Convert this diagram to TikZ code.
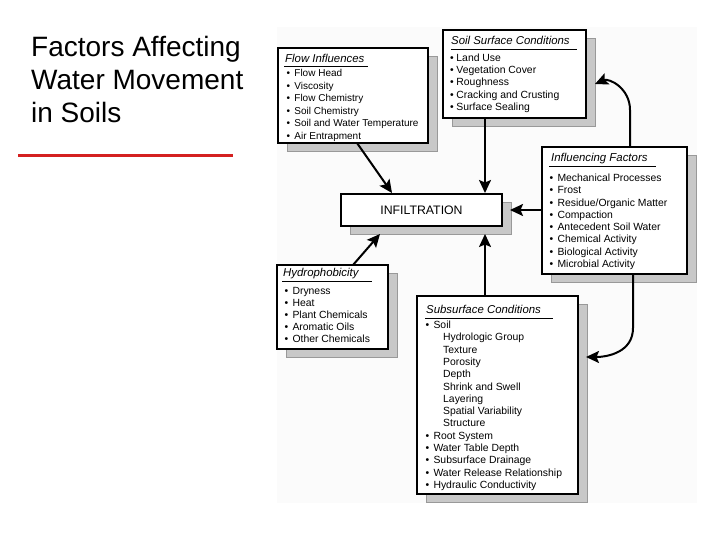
\documentclass[tikz,border=0pt]{standalone}
\usepackage{fontspec}
\setmainfont{Liberation Sans}
\usetikzlibrary{arrows.meta,calc,shadows}
\definecolor{redline}{RGB}{212,32,32}
\definecolor{shadowgray}{RGB}{200,200,200}
\definecolor{pagegray}{RGB}{251,251,251}
\newcommand\bul{\textbullet\hspace{4.2pt}}
\begin{document}
\begin{tikzpicture}[x=1pt,y=-1pt,
  panel/.style={rectangle, draw=black, line width=1.8pt, fill=white, anchor=north west,
    inner sep=0pt, outer sep=0pt,
    drop shadow={shadow xshift=9pt, shadow yshift=-8pt, fill=shadowgray, draw=black!40,
      line width=0.6pt, opacity=1}},
  ttl/.style={anchor=base west, inner sep=0pt, font=\fontsize{11.4}{13}\selectfont\itshape},
  itm/.style={anchor=base west, inner sep=0pt, font=\fontsize{10.4}{12}\selectfont},
  uline/.style={line width=0.9pt},
  arr/.style={line width=2pt, -{Stealth[length=13pt,width=12pt,inset=2.5pt]}},
  bigtitle/.style={anchor=base west, inner sep=0pt, font=\fontsize{28}{33}\selectfont}]
\useasboundingbox (0,0) rectangle (720,540);
\fill[white] (0,0) rectangle (720,540);
\fill[pagegray] (277,27) rectangle (697,503);

% title
\node[bigtitle] (t1) at (31,57) {Factors Affecting};
\node[bigtitle] (t2) at (31,90) {Water Movement};
\node[bigtitle] (t3) at (31,123) {in Soils};
\coordinate (rl1) at (18,156);
\coordinate (rl2) at (233,156);
\draw[redline, line width=3pt] (rl1) -- (rl2);

% panels
\node[panel, minimum width=150pt, minimum height=95pt] (flow) at (278,48) {};
\node[panel, minimum width=143pt, minimum height=88pt] (soil) at (443,30) {};
\node[panel, minimum width=145pt, minimum height=127pt] (infl) at (542,147) {};
\node[panel, minimum width=161pt, minimum height=32pt, font=\fontsize{12.3}{14}\selectfont] (inf) at (341,194) {INFILTRATION};
\node[panel, minimum width=111pt, minimum height=84pt] (hyd) at (277,265) {};
\node[panel, minimum width=161pt, minimum height=198pt] (sub) at (417,296) {};

% Flow Influences
\node[ttl] (flow-t) at ($(flow.north west)+(7,15)$) {Flow Influences};
\draw[uline] ($(flow.north west)+(6,18)$) -- ($(flow.north west)+(90,18)$);
\foreach \t [count=\i from 0] in {Flow Head,Viscosity,Flow Chemistry,Soil Chemistry,Soil and Water Temperature,Air Entrapment}
  \node[itm, font=\fontsize{10}{12}\selectfont] (flow-\i) at ($(flow.north west)+(8.5,29+12.5*\i)$) {\bul\t};

% Soil Surface Conditions
\node[ttl] (soil-t) at ($(soil.north west)+(8,15)$) {Soil Surface Conditions};
\draw[uline] ($(soil.north west)+(8,19)$) -- ($(soil.north west)+(134,19)$);
\foreach \t [count=\i from 0] in {Land Use,Vegetation Cover,Roughness,Cracking and Crusting,Surface Sealing}
  \node[itm] (soil-\i) at ($(soil.north west)+(7,31.5+12.2*\i)$) {\textbullet\hspace{2.6pt}\t};

% Influencing Factors
\node[ttl] (infl-t) at ($(infl.north west)+(9,15)$) {Influencing Factors};
\draw[uline] ($(infl.north west)+(7,19.5)$) -- ($(infl.north west)+(114,19.5)$);
\foreach \t [count=\i from 0] in {Mechanical Processes,Frost,Residue/Organic Matter,Compaction,Antecedent Soil Water,Chemical Activity,Biological Activity,Microbial Activity}
  \node[itm] (infl-\i) at ($(infl.north west)+(7.5,34.5+12.3*\i)$) {\bul\t};

% Hydrophobicity
\node[ttl] (hyd-t) at ($(hyd.north west)+(6,11)$) {Hydrophobicity};
\draw[uline] ($(hyd.north west)+(5,16)$) -- ($(hyd.north west)+(95,16)$);
\foreach \t [count=\i from 0] in {Dryness,Heat,Plant Chemicals,Aromatic Oils,Other Chemicals}
  \node[itm] (hyd-\i) at ($(hyd.north west)+(7.5,29.5+12*\i)$) {\bul\t};

% Subsurface Conditions
\node[ttl] (sub-t) at ($(sub.north west)+(9,17)$) {Subsurface Conditions};
\draw[uline] ($(sub.north west)+(8,22)$) -- ($(sub.north west)+(136,22)$);
\foreach \t/\xx [count=\i from 0] in {{\bul Soil}/8.5,Hydrologic Group/26,Texture/26,Porosity/26,Depth/26,Shrink and Swell/26,Layering/26,Spatial Variability/26,Structure/26,{\bul Root System}/8.5,{\bul Water Table Depth}/8.5,{\bul Subsurface Drainage}/8.5,{\bul Water Release Relationship}/8.5,{\bul Hydraulic Conductivity}/8.5}
  \node[itm] (sub-\i) at ($(sub.north west)+(\xx,32.5+12.3*\i)$) {\t};

% connectors
\coordinate (a1s) at ($(flow.south west)+(79,0)$);
\coordinate (a1t) at ($(inf.north west)+(51,-1)$);
\draw[arr] (a1s) -- (a1t);

\coordinate (a2s) at ($(soil.south west)+(42,0)$);
\coordinate (a2t) at ($(inf.north west)+(144,-1)$);
\draw[arr] (a2s) -- (a2t);

\coordinate (a3t) at ($(inf.east)+(8,0)$);
\draw[arr] (infl.west |- a3t) -- (a3t);

\coordinate (a4s) at ($(hyd.north west)+(76,0)$);
\coordinate (a4t) at ($(inf.south west)+(39,8)$);
\draw[arr] (a4s) -- (a4t);

\coordinate (a5s) at ($(sub.north west)+(68,0)$);
\coordinate (a5t) at ($(inf.south west)+(144,8)$);
\draw[arr] (a5s) -- (a5t);

\coordinate (a6s) at ($(infl.north west)+(88,0)$);
\coordinate (a6t) at ($(soil.north east)+(9,54)$);
\draw[arr] (a6s) -- ++(0,-37) .. controls +(0,-22) and +(14,-6) .. (a6t);

\coordinate (a7s) at ($(infl.south west)+(91,0)$);
\coordinate (a7t) at ($(sub.north east)+(8,61)$);
\draw[arr] (a7s) -- ++(0,54) .. controls +(0,24) and +(22,0) .. (a7t);
\end{tikzpicture}
\end{document}
